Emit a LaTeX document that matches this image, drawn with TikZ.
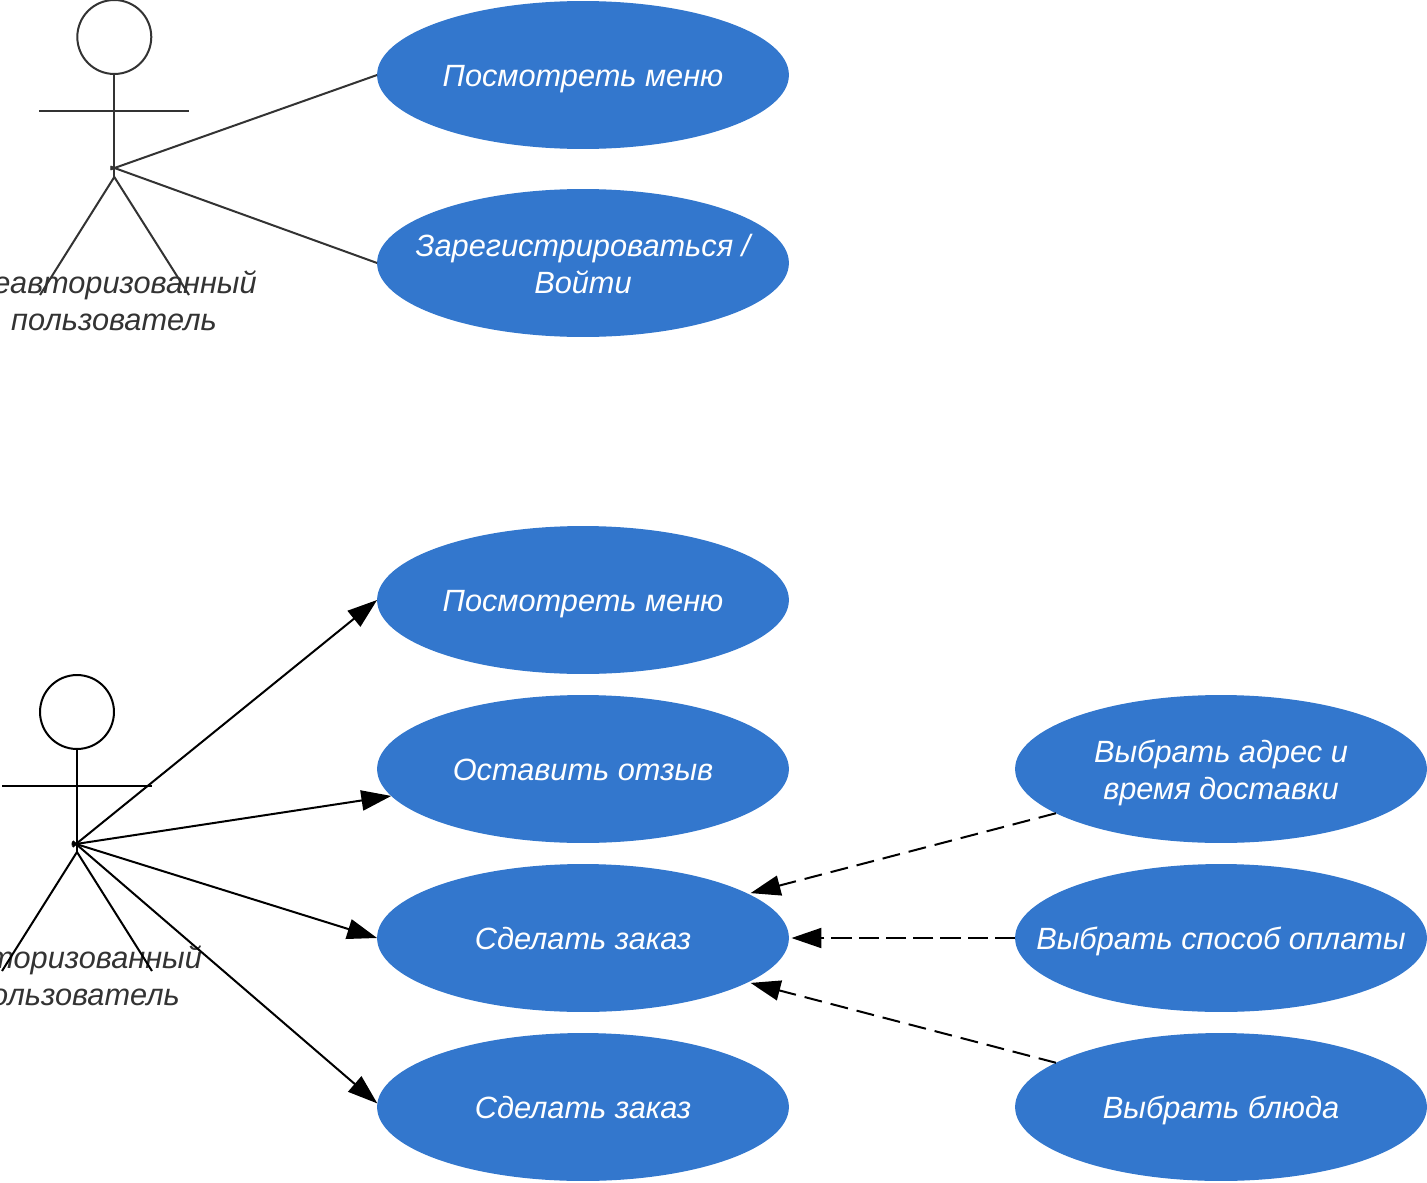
\documentclass[tikz,border=0pt]{standalone}
\usepackage{fontspec}
\setmainfont{Liberation Sans}
\usetikzlibrary{arrows.meta,shapes.geometric}
\definecolor{ucblue}{HTML}{3377CD}
\definecolor{inkgray}{HTML}{333333}
\tikzset{
  usecase/.style={ellipse,fill=ucblue,text=white,minimum width=234.4pt,minimum height=84.2pt,inner xsep=-40pt,inner ysep=0pt,outer sep=0pt,align=center,text depth=6.4pt,font=\fontsize{17.5}{21}\selectfont\itshape,execute at begin node={\rule{0pt}{20pt}}},
  actorname/.style={text=inkgray,inner sep=0pt,align=center,text depth=6.4pt,font=\fontsize{17.5}{21}\selectfont\itshape,execute at begin node={\rule{0pt}{20pt}}},
  twolines/.style={execute at begin node={\rule{0pt}{41pt}}},
  headshape/.style={circle,draw,line width=1.14pt,minimum size=42.1pt,inner sep=0pt,outer sep=0pt},
  stick/.style={line width=1.14pt},
  assoc/.style={line width=1.14pt,shorten <=-2.5pt},
  solidarrow/.style={line width=1.14pt,shorten <=-2.5pt,-{Triangle[length=17pt,width=11.5pt]}},
  dasharrow/.style={line width=1.14pt,dash pattern=on 10.2pt off 5.1pt,shorten >=1.5pt,-{Triangle[length=17pt,width=11.5pt]}},
  thinarrow/.style={line width=0.7pt,dash pattern=on 11.5pt off 4pt,shorten >=1.5pt,-{Triangle[length=17pt,width=11.5pt]}}
}
\begin{document}
\begin{tikzpicture}[x=0.02cm,y=-0.02cm]
   \useasboundingbox (0,0) rectangle (1427,1183);

   % guest actor
   \node[headshape,color=inkgray] (heada) at (114.3,37) {};
   \coordinate (handla) at (39,111);
   \coordinate (handra) at (189,111);
   \coordinate (hipa) at (114.3,177);
   \coordinate (footla) at (40,295);
   \coordinate (footra) at (189,295);
   \coordinate (fromguest) at (114.5,168);
   \node[actorname,twolines] (namea) at (114,300) {Неавторизованный\\пользователь};

   \draw[stick,inkgray] (heada.south) -- (hipa);
   \draw[stick,inkgray] (handla) -- (handra);
   \draw[stick,inkgray] (footla) -- (hipa) -- (footra);

   % registered actor
   \node[headshape] (headb) at (77,712) {};
   \coordinate (handlb) at (2,786);
   \coordinate (handrb) at (152,786);
   \coordinate (hipb) at (77,852);
   \coordinate (footlb) at (2,971);
   \coordinate (footrb) at (152,971);
   \coordinate (fromuser) at (76,844);
   \node[actorname,twolines] (nameb) at (77,975) {Авторизованный\\пользователь};

   \draw[stick] (headb.south) -- (hipb);
   \draw[stick] (handlb) -- (handrb);
   \draw[stick] (footlb) -- (hipb) -- (footrb);

   % use cases
   \node[usecase] (menua) at (583,75) {Посмотреть меню};
   \node[usecase,twolines] (login) at (583,263) {Зарегистрироваться /\\Войти};
   \node[usecase] (menub) at (583,600) {Посмотреть меню};
   \node[usecase] (review) at (583,769) {Оставить отзыв};
   \node[usecase] (ordera) at (583,938) {Сделать заказ};
   \node[usecase] (orderb) at (583,1107) {Сделать заказ};
   \node[usecase,twolines] (address) at (1221,769) {Выбрать адрес и\\время доставки};
   \node[usecase] (payment) at (1221,938) {Выбрать способ оплаты};
   \node[usecase] (dishes) at (1221,1107) {Выбрать блюда};

   \draw[assoc,inkgray] (fromguest) -- (menua.west);
   \draw[assoc,inkgray] (fromguest) -- (login.west);

   \draw[solidarrow] (fromuser) -- (menub.west);
   \draw[solidarrow] (fromuser) -- (review.188);
   \draw[solidarrow] (fromuser) -- (ordera.west);
   \draw[solidarrow] (fromuser) -- (orderb.179);

   \draw[dasharrow] (address.195) -- (ordera.15);
   \draw[thinarrow] (payment.west) -- (ordera.east);
   \draw[dasharrow] (dishes.165) -- (ordera.-15);
\end{tikzpicture}
\end{document}
